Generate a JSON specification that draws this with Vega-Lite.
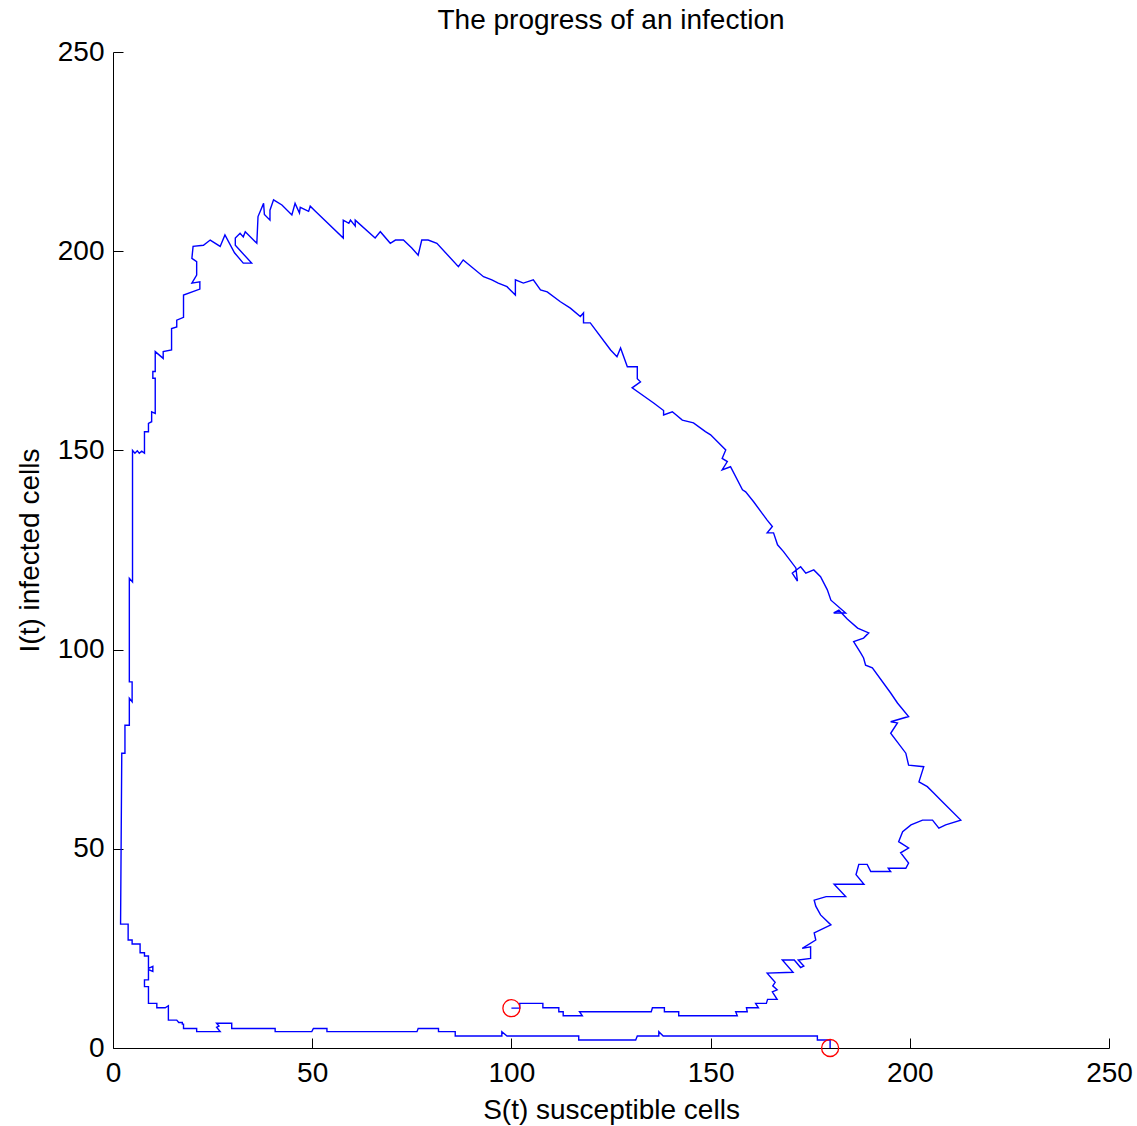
{
 "$schema": "https://vega.github.io/schema/vega-lite/v6.json",
 "width": 996,
 "height": 996,
 "autosize": {"type": "none"},
 "padding": {"left": 113, "top": 52, "right": 28, "bottom": 78},
 "background": "white",
 "title": {"text": "The progress of an infection", "font": "Liberation Sans", "fontSize": 28, "fontWeight": "normal", "color": "#000000", "anchor": "middle", "offset": 3},
 "config": {
  "view": {"stroke": null},
  "axis": {"grid": false, "domainColor": "#000000", "tickColor": "#000000", "labelColor": "#000000", "titleColor": "#000000", "labelFont": "Liberation Sans", "titleFont": "Liberation Sans", "labelFontSize": 28, "titleFontSize": 28, "titleFontWeight": "normal", "tickSize": -10, "labelFlush": false, "labelOverlap": false, "domainWidth": 1, "tickWidth": 1}
 },
 "layer": [
  {
   "data": {"values": [
{"t":1,"S":100,"I":10},{"t":2,"S":102.1,"I":10},{"t":3,"S":102.1,"I":11.2},{"t":4,"S":107.9,"I":11.2},{"t":5,"S":107.9,"I":10.1},{"t":6,"S":111.9,"I":10.1},{"t":7,"S":111.9,"I":9.1},{"t":8,"S":113,"I":9.1},{"t":9,"S":113,"I":8.1},{"t":10,"S":117.8,"I":8.1},
{"t":11,"S":117.1,"I":9.1},{"t":12,"S":135.1,"I":9.1},{"t":13,"S":135.4,"I":10.1},{"t":14,"S":138.4,"I":10.1},{"t":15,"S":138.4,"I":9.1},{"t":16,"S":142,"I":9.1},{"t":17,"S":142,"I":8.1},{"t":18,"S":156.7,"I":8.1},{"t":19,"S":156.3,"I":9.1},{"t":20,"S":159.2,"I":9.1},
{"t":21,"S":159,"I":10.1},{"t":22,"S":162,"I":10.1},{"t":23,"S":161.3,"I":11.2},{"t":24,"S":164,"I":11.2},{"t":25,"S":164.3,"I":12.2},{"t":26,"S":166.7,"I":12.2},{"t":27,"S":165.5,"I":14.1},{"t":28,"S":166.7,"I":14.6},{"t":29,"S":165.6,"I":15.6},{"t":30,"S":166.2,"I":16.5},
{"t":31,"S":164.2,"I":18.8},{"t":32,"S":170.7,"I":19},{"t":33,"S":168,"I":22.1},{"t":34,"S":171,"I":22.1},{"t":35,"S":172.6,"I":20.2},{"t":36,"S":173.4,"I":20.6},{"t":37,"S":172,"I":22.1},{"t":38,"S":175.1,"I":22.5},{"t":39,"S":175.1,"I":25.4},{"t":40,"S":173,"I":25},
{"t":41,"S":176.4,"I":27.1},{"t":42,"S":176,"I":28.9},{"t":43,"S":180.2,"I":30.9},{"t":44,"S":177.6,"I":33.4},{"t":45,"S":176.4,"I":35.6},{"t":46,"S":176,"I":37.1},{"t":47,"S":179,"I":38},{"t":48,"S":183.9,"I":38},{"t":49,"S":181,"I":41.1},{"t":50,"S":188.5,"I":41.1},
{"t":51,"S":186.5,"I":43.5},{"t":52,"S":187.2,"I":46.1},{"t":53,"S":189.3,"I":46.1},{"t":54,"S":190.2,"I":44.3},{"t":55,"S":195.2,"I":44.3},{"t":56,"S":194.6,"I":45.1},{"t":57,"S":199,"I":45.1},{"t":58,"S":199.7,"I":46.4},{"t":59,"S":197.7,"I":49},{"t":60,"S":199.7,"I":50.2},
{"t":61,"S":197.2,"I":51.8},{"t":62,"S":198.2,"I":54.3},{"t":63,"S":200.3,"I":56},{"t":64,"S":203.2,"I":57.2},{"t":65,"S":205.7,"I":57.2},{"t":66,"S":207.3,"I":55.2},{"t":67,"S":209,"I":56},{"t":68,"S":212.8,"I":57.2},{"t":69,"S":207.8,"I":62.2},{"t":70,"S":206,"I":64},
{"t":71,"S":204.4,"I":65.6},{"t":72,"S":202.3,"I":66.8},{"t":73,"S":203.5,"I":70.6},{"t":74,"S":199.7,"I":71},{"t":75,"S":199,"I":74},{"t":76,"S":195.2,"I":79},{"t":77,"S":196.9,"I":81.6},{"t":78,"S":195.2,"I":81.9},{"t":79,"S":199.7,"I":83.2},{"t":80,"S":196.9,"I":86.6},
{"t":81,"S":195.2,"I":89.1},{"t":82,"S":190.6,"I":95.4},{"t":83,"S":188.9,"I":96.1},{"t":84,"S":188.4,"I":97.9},{"t":85,"S":187.7,"I":99.1},{"t":86,"S":185.9,"I":102},{"t":87,"S":188.4,"I":102.9},{"t":88,"S":189.7,"I":104.2},{"t":89,"S":186.9,"I":105.4},{"t":90,"S":184.3,"I":107.7},
{"t":91,"S":182.2,"I":109.9},{"t":92,"S":180.9,"I":109.2},{"t":93,"S":183.9,"I":109.2},{"t":94,"S":180.2,"I":112.4},{"t":95,"S":179.3,"I":115},{"t":96,"S":177.6,"I":118.3},{"t":97,"S":175.9,"I":120},{"t":98,"S":173.9,"I":119.2},{"t":99,"S":172.6,"I":120.8},{"t":100,"S":170.5,"I":119.2},
{"t":101,"S":171.8,"I":117.2},{"t":102,"S":171.4,"I":120.5},{"t":103,"S":168.3,"I":124.6},{"t":104,"S":166.8,"I":126.3},{"t":105,"S":165.8,"I":129.3},{"t":106,"S":164.2,"I":129.3},{"t":107,"S":165.5,"I":130.9},{"t":108,"S":164.2,"I":132.5},{"t":109,"S":160.8,"I":137.1},{"t":110,"S":158.8,"I":139.6},
{"t":111,"S":158,"I":140.1},{"t":112,"S":155,"I":145.9},{"t":113,"S":152.9,"I":145.1},{"t":114,"S":154.2,"I":147.2},{"t":115,"S":152.9,"I":148},{"t":116,"S":153.8,"I":150.1},{"t":117,"S":150,"I":153.9},{"t":118,"S":148.7,"I":154.7},{"t":119,"S":145.7,"I":156.9},{"t":120,"S":142.9,"I":157.6},
{"t":121,"S":140.4,"I":159.7},{"t":122,"S":138.2,"I":158.9},{"t":123,"S":138.2,"I":160},{"t":124,"S":135.7,"I":161.9},{"t":125,"S":130.3,"I":165.7},{"t":126,"S":132.4,"I":167.2},{"t":127,"S":131.6,"I":168},{"t":128,"S":131.6,"I":171},{"t":129,"S":129.1,"I":171},{"t":130,"S":127.4,"I":175.7},
{"t":131,"S":126.5,"I":173.5},{"t":132,"S":124.9,"I":175.2},{"t":133,"S":119.8,"I":182},{"t":134,"S":118.1,"I":182},{"t":135,"S":118.1,"I":184.5},{"t":136,"S":117.3,"I":183.6},{"t":137,"S":114.8,"I":185.7},{"t":138,"S":112.3,"I":187.3},{"t":139,"S":109,"I":189.8},{"t":140,"S":107.3,"I":190.3},
{"t":141,"S":105.5,"I":192.8},{"t":142,"S":103,"I":192},{"t":143,"S":101,"I":192.8},{"t":144,"S":101,"I":189},{"t":145,"S":98.9,"I":191.1},{"t":146,"S":96.7,"I":192},{"t":147,"S":95.1,"I":192.8},{"t":148,"S":93,"I":193.6},{"t":149,"S":87.9,"I":197.8},{"t":150,"S":86.7,"I":196.1},
{"t":151,"S":81.3,"I":202},{"t":152,"S":79.1,"I":202.8},{"t":153,"S":77.5,"I":202.8},{"t":154,"S":76.6,"I":199},{"t":155,"S":75,"I":200.8},{"t":156,"S":72.9,"I":202.8},{"t":157,"S":70.9,"I":202.8},{"t":158,"S":69.6,"I":202},{"t":159,"S":67.1,"I":204.9},{"t":160,"S":65.8,"I":203.3},
{"t":161,"S":60.8,"I":207.8},{"t":162,"S":60.8,"I":206.3},{"t":163,"S":59.6,"I":207.8},{"t":164,"S":59.2,"I":207},{"t":165,"S":57.8,"I":207.8},{"t":166,"S":57.8,"I":203.3},{"t":167,"S":50.8,"I":210},{"t":168,"S":49.5,"I":211.3},{"t":169,"S":49.1,"I":210},{"t":170,"S":47,"I":211},
{"t":171,"S":46.8,"I":209.6},{"t":172,"S":45.7,"I":212},{"t":173,"S":44.9,"I":209.1},{"t":174,"S":42.4,"I":211.6},{"t":175,"S":40.3,"I":212.9},{"t":176,"S":39.4,"I":210.3},{"t":177,"S":39.4,"I":207.8},{"t":178,"S":38,"I":209.2},{"t":179,"S":37.8,"I":212},{"t":180,"S":36.4,"I":208.7},
{"t":181,"S":36.1,"I":202},{"t":182,"S":33.2,"I":204.9},{"t":183,"S":32.7,"I":203.6},{"t":184,"S":31.9,"I":204.5},{"t":185,"S":30.7,"I":203.3},{"t":186,"S":30.7,"I":201.5},{"t":187,"S":34.8,"I":197},{"t":188,"S":32.7,"I":197},{"t":189,"S":30.5,"I":199.6},{"t":190,"S":28.1,"I":204.1},
{"t":191,"S":26.9,"I":201.2},{"t":192,"S":24.4,"I":202.8},{"t":193,"S":22.7,"I":201.5},{"t":194,"S":20.1,"I":201.2},{"t":195,"S":19.8,"I":198.2},{"t":196,"S":21,"I":197.4},{"t":197,"S":21,"I":194},{"t":198,"S":19.8,"I":192},{"t":199,"S":21.8,"I":192.3},{"t":200,"S":21.8,"I":190.5},
{"t":201,"S":17.7,"I":189},{"t":202,"S":17.7,"I":183.4},{"t":203,"S":16,"I":182.7},{"t":204,"S":16,"I":181},{"t":205,"S":14.7,"I":180.6},{"t":206,"S":14.7,"I":175.2},{"t":207,"S":12.6,"I":174.8},{"t":208,"S":12.6,"I":173.1},{"t":209,"S":10.6,"I":174.8},{"t":210,"S":10.6,"I":169.8},
{"t":211,"S":10,"I":169.8},{"t":212,"S":10,"I":168.1},{"t":213,"S":10.6,"I":168.1},{"t":214,"S":10.6,"I":159.3},{"t":215,"S":9.7,"I":159.7},{"t":216,"S":9.7,"I":157.2},{"t":217,"S":8.9,"I":156.8},{"t":218,"S":8.9,"I":154.7},{"t":219,"S":7.9,"I":154.7},{"t":220,"S":7.9,"I":149.3},
{"t":221,"S":7.2,"I":149.8},{"t":222,"S":6.6,"I":149.3},{"t":223,"S":6.1,"I":149.9},{"t":224,"S":5.5,"I":149.3},{"t":225,"S":4.9,"I":150},{"t":226,"S":4.9,"I":117},{"t":227,"S":4.1,"I":117.9},{"t":228,"S":4.1,"I":91.9},{"t":229,"S":4.8,"I":91.9},{"t":230,"S":4.8,"I":86.9},
{"t":231,"S":4.1,"I":87.8},{"t":232,"S":4.1,"I":81},{"t":233,"S":3,"I":81},{"t":234,"S":3,"I":74},{"t":235,"S":2.2,"I":74},{"t":236,"S":1.9,"I":31.1},{"t":237,"S":3.8,"I":31.1},{"t":238,"S":3.8,"I":27.1},{"t":239,"S":4.8,"I":27.1},{"t":240,"S":4.8,"I":26.1},
{"t":241,"S":6.8,"I":26.1},{"t":242,"S":6.8,"I":23.9},{"t":243,"S":7.9,"I":23.9},{"t":244,"S":7.9,"I":23.1},{"t":245,"S":8.9,"I":23.1},{"t":246,"S":8.9,"I":20},{"t":247,"S":10,"I":20.5},{"t":248,"S":10,"I":19.2},{"t":249,"S":8.9,"I":19.7},{"t":250,"S":8.9,"I":17.1},
{"t":251,"S":7.9,"I":17.1},{"t":252,"S":7.9,"I":15.4},{"t":253,"S":8.9,"I":15.4},{"t":254,"S":8.9,"I":11.2},{"t":255,"S":11,"I":11.2},{"t":256,"S":11,"I":10.1},{"t":257,"S":13.1,"I":10.1},{"t":258,"S":13.9,"I":10.6},{"t":259,"S":13.9,"I":7},{"t":260,"S":16,"I":7},
{"t":261,"S":16.5,"I":6.4},{"t":262,"S":17.4,"I":6.4},{"t":263,"S":17.4,"I":6},{"t":264,"S":17.7,"I":6},{"t":265,"S":17.7,"I":4.9},{"t":266,"S":21,"I":4.9},{"t":267,"S":21,"I":4.1},{"t":268,"S":26.9,"I":4.1},{"t":269,"S":26,"I":5.2},{"t":270,"S":26.6,"I":5.5},
{"t":271,"S":26,"I":6.2},{"t":272,"S":29.8,"I":6.2},{"t":273,"S":29.8,"I":4.9},{"t":274,"S":40.7,"I":4.9},{"t":275,"S":40.7,"I":4.1},{"t":276,"S":49.9,"I":4.1},{"t":277,"S":50.3,"I":4.9},{"t":278,"S":53.7,"I":4.9},{"t":279,"S":53.7,"I":4.1},{"t":280,"S":76.3,"I":4.1},
{"t":281,"S":76.6,"I":4.9},{"t":282,"S":81.7,"I":4.9},{"t":283,"S":81.7,"I":4.1},{"t":284,"S":85.9,"I":4.1},{"t":285,"S":85.9,"I":3},{"t":286,"S":97.6,"I":3},{"t":287,"S":97.6,"I":4.1},{"t":288,"S":98.9,"I":3},{"t":289,"S":116.9,"I":3},{"t":290,"S":116.9,"I":2},
{"t":291,"S":131.2,"I":2},{"t":292,"S":131.6,"I":3},{"t":293,"S":137,"I":3},{"t":294,"S":137,"I":4.1},{"t":295,"S":138.1,"I":3},{"t":296,"S":176.8,"I":3},{"t":297,"S":176.8,"I":2},{"t":298,"S":180,"I":2},{"t":299,"S":180,"I":0}
   ]},
   "mark": {"type": "line", "color": "#0000ff", "strokeWidth": 1.4, "clip": true},
   "encoding": {
    "x": {"field": "S", "type": "quantitative", "scale": {"domain": [0, 250], "nice": false}, "axis": {"values": [0, 50, 100, 150, 200, 250], "title": "S(t) susceptible cells", "labelPadding": 21, "titlePadding": 9}},
    "y": {"field": "I", "type": "quantitative", "scale": {"domain": [0, 250], "nice": false}, "axis": {"values": [0, 50, 100, 150, 200, 250], "title": "I(t) infected cells", "labelPadding": 19, "titlePadding": 13}},
    "order": {"field": "t", "type": "quantitative"}
   }
  },
  {
   "data": {"values": [{"S": 100, "I": 10}, {"S": 180, "I": 0}]},
   "mark": {"type": "point", "shape": "circle", "size": 290, "filled": false, "color": "#ff0000", "strokeWidth": 1.3, "opacity": 1},
   "encoding": {
    "x": {"field": "S", "type": "quantitative"},
    "y": {"field": "I", "type": "quantitative"}
   }
  }
 ]
}
